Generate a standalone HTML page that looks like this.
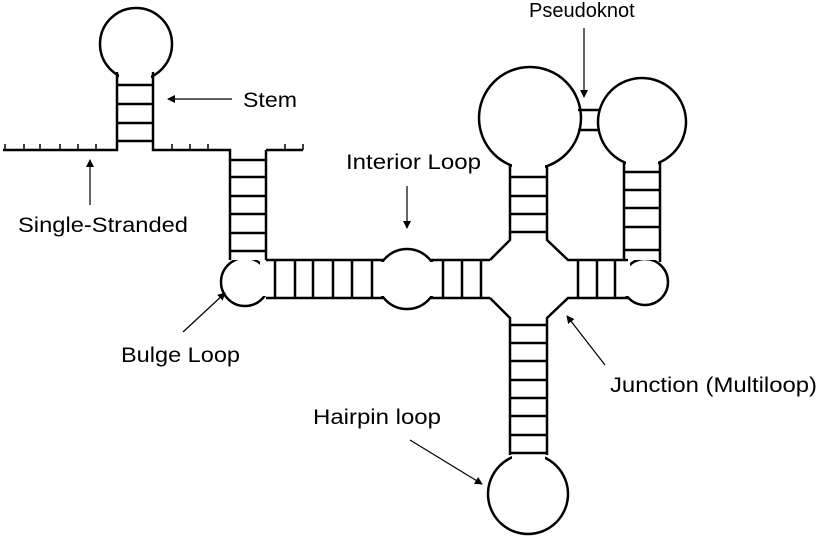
<!DOCTYPE html>
<html><head><meta charset="utf-8"><style>
html,body{margin:0;padding:0;background:#fff;width:818px;height:541px;overflow:hidden;position:relative}
svg{display:block}
text{font-family:"Liberation Sans",sans-serif;font-size:21px;fill:#000}
#pk{position:absolute;left:529px;top:-1px;font-family:"Liberation Sans",sans-serif;font-size:20px;line-height:24px;color:#000;white-space:nowrap}
</style></head><body>
<svg width="818" height="541" viewBox="0 0 818 541" xmlns="http://www.w3.org/2000/svg">
<defs><marker id="a" markerWidth="8" markerHeight="8" refX="7" refY="4" orient="auto" markerUnits="userSpaceOnUse"><path d="M0,0 L8,4 L0,8 z" fill="#000"/></marker></defs>
<g fill="#fff" stroke="#000" stroke-width="2.5">
<circle cx="136" cy="44" r="36"/>
<circle cx="245" cy="282" r="24"/>
<circle cx="407" cy="279" r="30"/>
<circle cx="530" cy="118" r="51"/>
<circle cx="642" cy="122" r="44"/>
<circle cx="645" cy="282" r="23"/>
<circle cx="528" cy="494" r="40"/>
</g>
<g fill="#fff" stroke="none">
<rect x="119" y="70" width="32" height="80"/>
<rect x="232" y="150" width="32" height="110"/>
<rect x="260" y="262" width="125" height="34"/>
<rect x="429" y="262" width="151" height="34"/>
<rect x="512" y="160" width="33" height="340"/>
<rect x="488" y="240" width="82" height="60"/>
<rect x="626" y="160" width="32" height="100"/>
<rect x="576" y="262" width="54" height="34"/>
</g>
<g stroke="#000" stroke-width="2.5" fill="none">
<path d="M3,150 H117 V72 M153,72 V150 H230 V260 M266,150 V260 M266,150 H303"/>
<path d="M117,85 H153 M117,104 H153 M117,123 H153 M117,141 H153"/>
<path d="M230,160 H266 M230,177 H266 M230,196 H266 M230,214 H266 M230,233 H266 M230,251 H266"/>
<path d="M5,150 V144 M24,150 V144 M40,150 V144 M60,150 V144 M78,150 V144 M96,150 V144 M172,150 V144 M190,150 V144 M208,150 V144 M285,150 V144 M303,150 V144" stroke-width="1.5"/>
<path d="M266,260 H383 M266,298 H383"/>
<path d="M275,260 V298 M295,260 V298 M313,260 V298 M333,260 V298 M352,260 V298 M372,260 V298"/>
<path d="M431,260 H490 M431,298 H490"/>
<path d="M443,260 V298 M462,260 V298 M481,260 V298"/>
<path d="M490,260 L510,240 V165 M547,165 V240 L568,260 H628 M490,298 L510,318 V455 M547,455 V318 L568,298 H628"/>
<path d="M510,177 H547 M510,196 H547 M510,214 H547 M510,232 H547"/>
<path d="M578,260 V298 M597,260 V298 M615,260 V298"/>
<path d="M510,325 H547 M510,343 H547 M510,361 H547 M510,380 H547 M510,398 H547 M510,416 H547 M510,435 H547 M510,453 H547"/>
<path d="M624,163 V260 M660,163 V262"/>
<path d="M624,172 H660 M624,190 H660 M624,208 H660 M624,227 H660 M624,250 H660"/>
<path d="M578,110 H600 M578,130 H600"/>
</g>
<g stroke="#000" stroke-width="1.2" marker-end="url(#a)">
<line x1="232" y1="99" x2="168" y2="99"/>
<line x1="584" y1="28" x2="584" y2="97"/>
<line x1="407" y1="186" x2="407" y2="228"/>
<line x1="90" y1="205" x2="90" y2="160"/>
<line x1="183" y1="332" x2="225" y2="293"/>
<line x1="605" y1="365" x2="567" y2="316"/>
<line x1="410" y1="440" x2="482" y2="484"/>
</g>
<text x="243" y="107" textLength="54" lengthAdjust="spacingAndGlyphs">Stem</text>
<text x="346" y="169" textLength="135" lengthAdjust="spacingAndGlyphs">Interior Loop</text>
<text x="18" y="232" textLength="170" lengthAdjust="spacingAndGlyphs">Single-Stranded</text>
<text x="121" y="362" textLength="119" lengthAdjust="spacingAndGlyphs">Bulge Loop</text>
<text x="610" y="392" textLength="207" lengthAdjust="spacingAndGlyphs">Junction (Multiloop)</text>
<text x="313" y="424" textLength="128" lengthAdjust="spacingAndGlyphs">Hairpin loop</text>
</svg>
<div id="pk">Pseudoknot</div>
</body></html>
